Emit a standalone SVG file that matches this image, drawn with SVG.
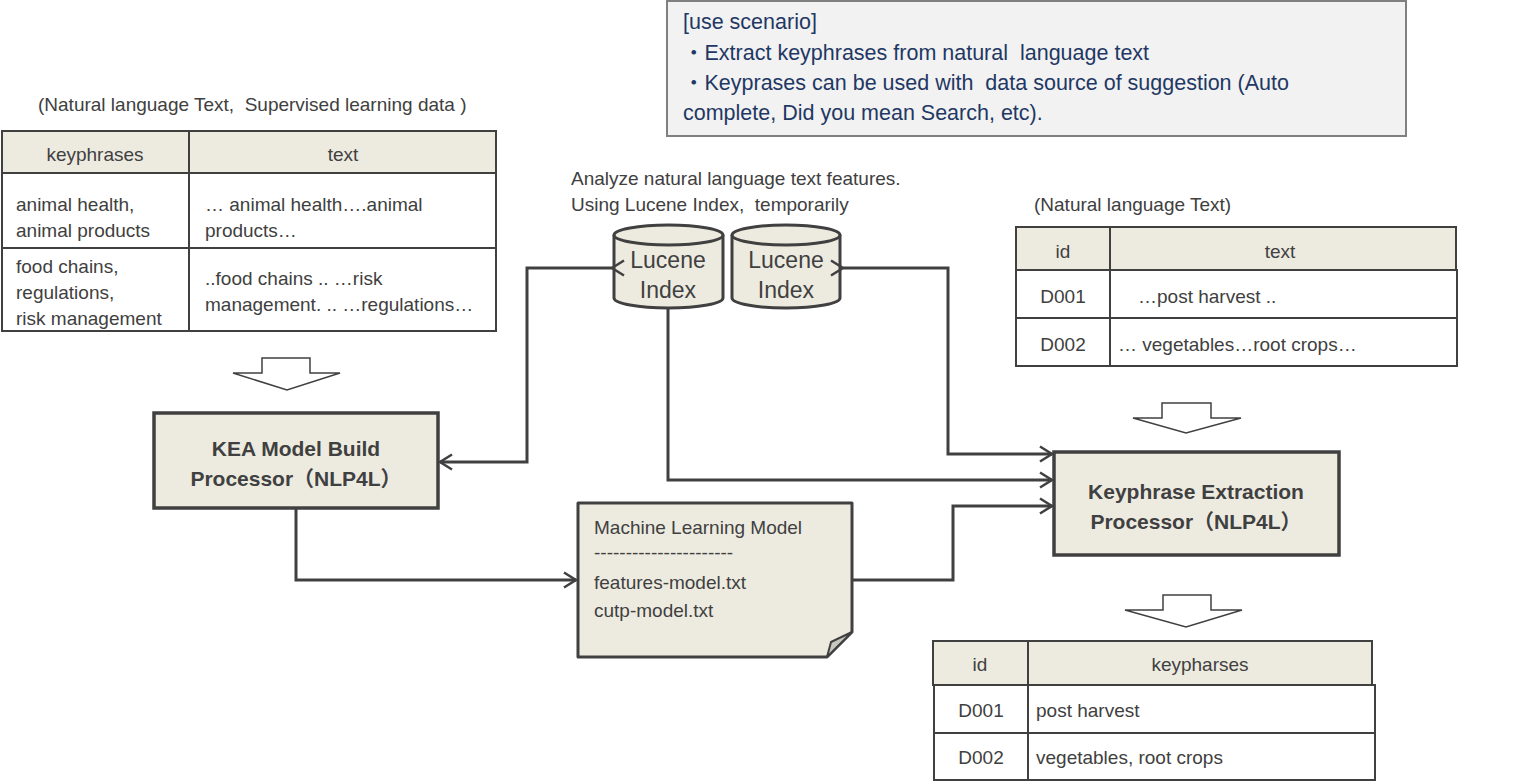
<svg xmlns="http://www.w3.org/2000/svg" width="1528" height="783" viewBox="0 0 1528 783" xml:space="preserve">
<style>
text{font-family:"Liberation Sans","Noto Sans CJK JP",sans-serif;fill:#404040;font-size:19px;white-space:pre}
.hd{fill:#EDEBE0;stroke:#404040;stroke-width:2}
.cell{fill:#fff;stroke:#404040;stroke-width:2}
.box{fill:#EDEBE0;stroke:#404040;stroke-width:3.5}
.bold{font-weight:bold;font-size:21px}
.conn{fill:none;stroke:#404040;stroke-width:3}
.hollow{fill:#fff;stroke:#404040;stroke-width:1.5}
.sc{fill:#1F3864;font-size:21.5px}
.c{text-anchor:middle}
.cyl{font-size:23px}
</style>
<defs>
<marker id="ah" markerWidth="16" markerHeight="18" refX="13" refY="9" orient="auto" markerUnits="userSpaceOnUse">
<path d="M1,1.5 L13,9 L1,16.5" fill="none" stroke="#404040" stroke-width="2.5"/>
</marker>
</defs>

<g id="scenario">
<rect x="667" y="1" width="739" height="135" fill="#F2F2F2" stroke="#808080" stroke-width="2"/>
<text class="sc" x="683" y="29">[use scenario]</text>
<text class="sc" x="683" y="60">・Extract keyphrases from natural  language text</text>
<text class="sc" x="683" y="90">・Keyprases can be used with  data source of suggestion (Auto</text>
<text class="sc" x="683" y="120">complete, Did you mean Search, etc).</text>
</g>

<g id="training-table">
<text x="38" y="111" font-size="18.5">(Natural language Text,  Supervised learning data )</text>
<rect class="hd" x="2" y="131" width="187" height="42"/>
<rect class="hd" x="189" y="131" width="307" height="42"/>
<rect class="cell" x="2" y="173" width="187" height="75"/>
<rect class="cell" x="189" y="173" width="307" height="75"/>
<rect class="cell" x="2" y="248" width="187" height="83"/>
<rect class="cell" x="189" y="248" width="307" height="83"/>
<text class="c" x="95" y="161">keyphrases</text>
<text class="c" x="343" y="161">text</text>
<text x="16" y="211">animal health,</text>
<text x="16" y="237">animal products</text>
<text x="205" y="211">… animal health….animal</text>
<text x="205" y="237">products…</text>
<text x="16" y="273">food chains,</text>
<text x="16" y="299">regulations,</text>
<text x="16" y="325">risk management</text>
<text x="205" y="285">..food chains .. …risk</text>
<text x="205" y="311">management. .. …regulations…</text>
</g>

<g id="arrow-down-1">
<path class="hollow" d="M262,358 H310 V373 H340 L287,390 L233,373 H262 Z"/>
</g>

<g id="kea">
<rect class="box" x="154" y="413" width="284" height="95"/>
<text class="c bold" x="296" y="456">KEA Model Build</text>
<text class="c bold" x="296" y="486">Processor（NLP4L）</text>
</g>

<g id="lucene-caption">
<text x="571" y="185">Analyze natural language text features.</text>
<text x="571" y="211">Using Lucene Index,  temporarily</text>
</g>

<g id="lucene1">
<path d="M614,235 V298 A54.5,10 0 0 0 723,298 V235" fill="#EDEBE0" stroke="#404040" stroke-width="3"/>
<ellipse cx="668.5" cy="235" rx="54.5" ry="10" fill="#EDEBE0" stroke="#404040" stroke-width="3"/>
<text class="c cyl" x="668" y="268">Lucene</text>
<text class="c cyl" x="668" y="298">Index</text>
</g>

<g id="lucene2">
<path d="M732,235 V298 A54,10 0 0 0 840,298 V235" fill="#EDEBE0" stroke="#404040" stroke-width="3"/>
<ellipse cx="786" cy="235" rx="54" ry="10" fill="#EDEBE0" stroke="#404040" stroke-width="3"/>
<text class="c cyl" x="786" y="268">Lucene</text>
<text class="c cyl" x="786" y="298">Index</text>
</g>

<g id="ml-model">
<path d="M578,503 H852 V632 L827,657 H578 Z" fill="#EDEBE0" stroke="#404040" stroke-width="3" stroke-linejoin="round"/>
<path d="M827,657 L831,642 L852,632 Z" fill="#C8C8C0" stroke="#404040" stroke-width="2" stroke-linejoin="round"/>
<text x="594" y="534" font-size="20.5">Machine Learning Model</text>
<text x="594" y="559" font-size="20.5">----------------------</text>
<text x="594" y="589" font-size="20.5">features-model.txt</text>
<text x="594" y="617" font-size="20.5">cutp-model.txt</text>
</g>

<g id="input-table">
<text x="1034" y="211">(Natural language Text)</text>
<rect class="hd" x="1016" y="227" width="94" height="43"/>
<rect class="hd" x="1110" y="227" width="346" height="43"/>
<rect class="cell" x="1016" y="270" width="94" height="48"/>
<rect class="cell" x="1110" y="270" width="347" height="48"/>
<rect class="cell" x="1016" y="318" width="94" height="48"/>
<rect class="cell" x="1110" y="318" width="347" height="48"/>
<text class="c" x="1063" y="258">id</text>
<text class="c" x="1280" y="258">text</text>
<text class="c" x="1063" y="303">D001</text>
<text x="1138" y="303">…post harvest ..</text>
<text class="c" x="1063" y="351">D002</text>
<text x="1118" y="351">… vegetables…root crops…</text>
</g>

<g id="arrow-down-2">
<path class="hollow" d="M1162,403 H1211 V418 H1241 L1186,433 L1133,418 H1162 Z"/>
</g>

<g id="keyphrase-extraction">
<rect class="box" x="1054" y="452" width="285" height="103"/>
<text class="c bold" x="1196" y="499">Keyphrase Extraction</text>
<text class="c bold" x="1196" y="529">Processor（NLP4L）</text>
</g>

<g id="arrow-down-3">
<path class="hollow" d="M1163,595 H1211 V610 H1242 L1186,627 L1125,610 H1163 Z"/>
</g>

<g id="output-table">
<rect class="hd" x="933" y="641" width="95" height="44"/>
<rect class="hd" x="1028" y="641" width="344" height="44"/>
<rect class="cell" x="934" y="685" width="94" height="48"/>
<rect class="cell" x="1028" y="685" width="347" height="48"/>
<rect class="cell" x="934" y="733" width="94" height="47"/>
<rect class="cell" x="1028" y="733" width="347" height="47"/>
<text class="c" x="980" y="671">id</text>
<text class="c" x="1200" y="671">keypharses</text>
<text class="c" x="981" y="717">D001</text>
<text x="1036" y="717">post harvest</text>
<text class="c" x="981" y="764">D002</text>
<text x="1036" y="764">vegetables, root crops</text>
</g>

<g id="connectors">
<path class="conn" d="M612,268 H527 V462 H440" marker-start="url(#ah)" marker-end="url(#ah)"/>
<path class="conn" d="M843,268 H948 V454 H1052" marker-start="url(#ah)" marker-end="url(#ah)"/>
<path class="conn" d="M668,308 V480 H1052" marker-end="url(#ah)"/>
<path class="conn" d="M296,508 V580 H576" marker-end="url(#ah)"/>
<path class="conn" d="M852,580 H953 V506 H1052" marker-end="url(#ah)"/>
</g>
</svg>
